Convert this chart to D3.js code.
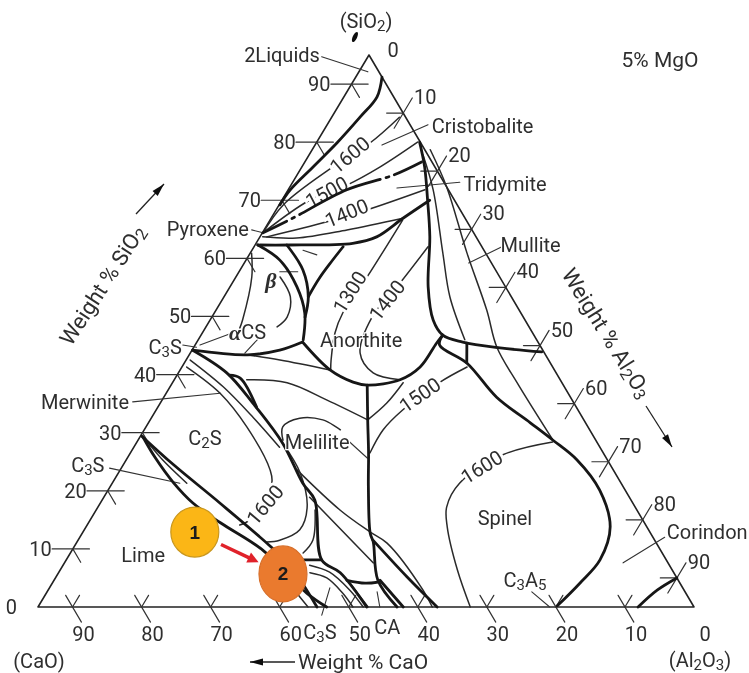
<!DOCTYPE html>
<html>
<head>
<meta charset="utf-8">
<title>CaO-SiO2-Al2O3 at 5% MgO</title>
<script src="https://cdnjs.cloudflare.com/ajax/libs/d3/7.8.5/d3.min.js"></script>
<style>
    html, body { margin: 0; padding: 0; background: #fff; }
    text { font-family: "Roboto", sans-serif; fill: #2f2f2f; }
</style>
</head>
<body>
<div id="graph"></div>
<script>
// All compositions are [Al2O3 wt%, SiO2 wt%], CaO is what is left of 95 (the other 5 is MgO)
var total = 95;

var cornerLabels = ["(CaO)", "(Al_2O_3)", "(SiO_2)"];
var sio2Ticks = [90, 80, 70, 60, 50, 40, 30, 20, 10, 0];
var al2o3Ticks = [10, 20, 30, 40, 50, 60, 70, 80, 90];
var caoTicks = [90, 80, 70, 60, 50, 40, 30, 20, 10, 0];

// heavy lines: field boundaries
var boundaries = [
    [[3.8,91.2],[4.8,87.8],[4.1,84.3],[3.0,79.9],[1.6,75.7],[0.3,71.8],[0.1,69.2]],
    [[14.9,80.0],[17.8,75.7],[21.1,70.0],[24.6,63.7],[28.7,55.1],[32.3,49.4],[35.0,46.8],[38.5,45.6],[44.4,44.6],[50.8,43.9]],
    [[21.4,70.0],[19.1,66.9],[16.9,63.7],[14.0,62.6],[5.0,62.3],[0.4,62.3]],
    [[0.4,62.3],[4.9,59.7],[9.7,55.1],[13.1,50.6],[15.2,46.0]],
    [[4.6,62.3],[9.1,58.0],[12.2,53.4],[13.5,49.9]],
    [[12.9,62.0],[12.2,56.8],[12.2,53.4]],
    [[0.1,44.2],[8.4,43.4],[12.7,44.2],[15.3,45.6]],
    [[15.3,45.6],[21.7,40.8],[26.1,38.7],[28.4,38.2],[32.7,39.1],[34.5,41.3],[34.8,45.4],[35.0,46.8]],
    [[28.4,38.2],[31.5,32.2],[34.5,26.5],[37.4,20.7],[41.7,12.7],[42.9,11.2],[46.9,4.6],[52.0,0]],
    [[42.7,11.5],[50.8,5.2],[57.8,0]],
    [[47.2,4.6],[52.9,0]],
    [[35.0,46.8],[35.4,45.1],[40.9,42.0],[48.2,36.1],[55.3,31.7],[60.1,28.7],[65.3,25.3],[71.2,20.1],[75.9,13.8],[77.3,8.1],[76.4,4.1],[75.1,0.2]],
    [[39.2,45.4],[40.9,42.0]],
    [[86.9,0],[88.2,2.9],[90.0,5.0]],
    [[0.1,44.2],[7.0,40.3],[13.4,35.1],[21.2,28.2],[27.6,21.3],[30.8,18.4],[37.0,8.1],[40.8,5.9],[47.6,0]],
    [[34.3,8.1],[37.0,8.1]],
    [[7.6,39.9],[9.4,39.4],[14.3,34.4]],
    [[42.4,4.6],[45.3,4.1],[47.1,4.3]],
    [[0.2,29.4],[7.1,24.6],[17.3,17.9],[28.3,10.5],[32.8,7.2],[40.4,0]],
    [[0.4,29.3],[3.9,25.8],[8.7,21.5],[13.4,17.9],[19.1,14.5],[27.6,9.8],[37.7,2.4],[41.8,0]]
];

// the dash-dot one between cristobalite and tridymite
var dashBoundary = [[16.9,76.6],[13.9,74.3],[8.5,71.8],[3.1,66.9],[0.1,64.4]];

// thin lines: other boundaries and compatibility joins
var thinLines = [
    [[19.1,66.9],[12.0,64.9],[5.4,63.5],[0.4,63.7]],
    [[16.5,77.8],[21.0,71.8],[27.9,60.9],[32.7,53.4],[38.6,46.0]],
    [[17.1,78.7],[22.7,72.3],[31.4,60.9],[39.2,51.1],[43.9,44.7],[49.9,38.6],[60.1,28.7]],
    [[0.2,60.9],[2.3,56.8],[4.7,49.4],[5.0,48.0]],
    [[6.4,56.8],[9.6,53.4],[10.9,49.9],[10.3,48.2]],
    [[35.7,7.2],[39.2,6.0],[43.7,2.9],[47.1,0]],
    [[36.4,5.9],[39.3,5.0],[42.9,2.4],[45.6,0]],
    [[43.1,4.1],[47.8,0]],
    [[0.6,42.5],[7.7,37.9],[14.6,32.7],[21.1,27.5]],
    [[21.2,28.2],[26.3,23.1],[30.3,17.2],[31.2,13.3],[29.2,11.5],[27.5,11.2]],
    [[33.7,9.3],[34.0,11.5],[31.7,16.7]],
    [[21.0,28.7],[19.8,31.0],[21.5,32.5],[25.0,32.2],[28.4,30.5]],
    [[10.5,39.1],[16.6,38.6],[23.9,35.6],[31.5,32.2]],
    [[8.4,43.4],[13.6,42.5],[21.7,40.8]],
    [[25.6,23.6],[35.3,16.7],[41.6,12.9],[45.0,11.0],[54.3,2.9],[57.1,0]],
    [[29.8,18.9],[44.7,7.6]],
    [[2.1,27.9],[5.3,25.3],[10.8,21.3]],
    [[29.5,8.1],[39.1,0]]
];

// isotherms
var isotherms = [
    [[9.8,84.3],[7.8,79.9],[4.4,75.6],[0.6,69.2],[0.1,64.4]],
    [[14.6,80.0],[11.3,75.7],[8.1,72.6],[4.0,70.0],[0.1,64.4]],
    [[19.8,71.8],[13.1,68.3],[8.4,66.3],[1.0,63.7]],
    [[19.2,66.6],[19.0,56.8],[18.6,50.6],[19.2,47.2],[21.0,42.5],[21.8,40.8]],
    [[25.2,62.0],[24.3,55.8],[23.2,49.9],[24.6,43.7],[28.2,40.3],[32.7,39.1]],
    [[0.7,41.3],[7.8,36.8],[14.6,31.0],[21.7,23.6],[23.1,21.3],[23.1,15.0],[22.1,14.1]],
    [[34.7,26.5],[34.6,30.5],[35.7,33.9],[38.7,38.7],[41.3,41.3]],
    [[31.5,32.2],[32.8,35.1],[33.4,38.6]],
    [[60.2,28.4],[54.1,26.2],[50.3,21.3],[50.5,17.2],[52.3,13.8],[57.5,6.4],[62.6,0]]
];
// [text, Al2O3, SiO2, angle]
var isothermLabels = [
    ["1600", 5.9, 77.8, -40],
    ["1500", 5.8, 71.4, -28],
    ["1400", 10.5, 67.8, -22],
    ["1300", 17.8, 54.2, -58],
    ["1400", 23.9, 52.8, -52],
    ["1500", 36.9, 36.5, -35],
    ["1600", 52.1, 24.1, -32],
    ["1600", 24.0, 17.6, -50]
];

// straight leaders from a name to its field
var leaders = [
    [[-6.7,94.7],[1.3,92.1]],
    [[14.6,83.0],[9.7,79.5]],
    [[24.2,73.1],[15.6,72.1]],
    [[35.9,62.0],[32.5,59.2]],
    [[-1.8,64.9],[0.1,64.4]],
    [[-4.1,35.3],[7.8,36.8]],
    [[84.7,12.0],[80.9,7.6]],
    [[70.2,2.6],[74.1,0]],
    [[-1.8,45.1],[0.4,44.7]],
    [[40.6,3.3],[41.8,-1.4]],
    [[47.8,2.6],[49.5,0]],
    [[-1.7,23.9],[9.8,21.3]],
    [[8.7,46.5],[7.9,43.7]],
    [[4.4,47.2],[0.7,45.1]],
    [[7.4,61.4],[9.8,60.6]],
    [[5.9,57.7],[8.5,57.7]],
    [[30.8,28.4],[34.8,25.6]]
];

// phase field names [text, Al2O3, SiO2]
var fieldLabels = [
    ["2Liquids", -12.6, 95.0],
    ["Cristobalite", 22.6, 82.8],
    ["Tridymite", 30.9, 72.8],
    ["Mullite", 39.9, 62.3],
    ["Pyroxene", -8.2, 65.0],
    ["C_3S", -4.2, 44.8],
    ["Merwinite", -11.0, 35.3],
    ["C_2S", 9.5, 29.1],
    ["C_3S", -5.1, 24.4],
    ["Lime", 10.7, 9.0],
    ["Anorthite", 23.6, 46.0],
    ["Melilite", 26.1, 28.4],
    ["Spinel", 59.9, 15.3],
    ["C_3A_5", 68.2, 4.6],
    ["Corindon", 90.4, 12.9],
    ["C_3S", 43.0, -4.3],
    ["CA", 52.3, -3.4]
];
var greekLabels = [
    ["\u03b2", 4.5, 56.3, ""],
    ["\u03b1", 3.8, 47.3, "CS"]
];

// the two numbered slag compositions
var slagPoints = [
    {id: "1", al2o3: 16.2, sio2: 12.9},
    {id: "2", al2o3: 32.6, sio2: 5.7}
];

var width = 749;
var height = 673;

var xScale = d3.scaleLinear().domain([0, total]).range([38, 694]);
var yScale = d3.scaleLinear().domain([0, total]).range([607, 55]);
var apexShift = (369 - 38) / (694 - 38);	// the apex is not quite over the middle of the base

function px(p) { return xScale(p[0] + apexShift * p[1]); }
function py(p) { return yScale(p[1]); }

var curve = d3.line().x(px).y(py).curve(d3.curveCatmullRom.alpha(0.5));
var straight = d3.line().x(px).y(py);

var svg = d3.select("#graph").append("svg")
    .attr("width", width)
    .attr("height", height)
    .style("display", "block");

// the scan is a bit soft
svg.append("defs").append("filter")
    .attr("id", "soft")
    .attr("x", 0).attr("y", 0).attr("width", 1).attr("height", 1)
    .append("feGaussianBlur").attr("stdDeviation", 0.45);

var root = svg.append("g").attr("filter", "url(#soft)");
root.append("rect").attr("width", width).attr("height", height).attr("fill", "#fff");

function drawLines(data, gen, w, color, dash) {
    root.append("g").selectAll("path")
        .data(data)
        .enter().append("path")
        .attr("d", gen)
        .attr("fill", "none")
        .attr("stroke", color)
        .attr("stroke-width", w)
        .attr("stroke-linecap", "round")
        .attr("stroke-linejoin", "round")
        .attr("stroke-dasharray", dash || null);
}

// puts "C_3S" into a text node with the 3 lowered
function setLabel(sel, str) {
    sel.each(function(d) {
        var node = d3.select(this);
        var s = typeof str === "function" ? str(d) : str;
        var parts = s.split("_");
        node.append("tspan").text(parts[0]);
        parts.slice(1).forEach(function(part) {
            node.append("tspan").attr("dy", 5).attr("font-size", "75%").text(part.charAt(0));
            if (part.length > 1) node.append("tspan").attr("dy", -5).text(part.slice(1));
        });
    });
}

function plainText(x, y, str, size, anchor, rotate) {
    var t = root.append("text")
        .attr("x", x).attr("y", y)
        .attr("font-size", size)
        .attr("text-anchor", anchor || "middle")
        .attr("dominant-baseline", "central");
    if (rotate) t.attr("transform", "rotate(" + rotate + " " + x + " " + y + ")");
    setLabel(t, str);
    return t;
}

// triangle
drawLines([[[0, 0], [total, 0], [0, total], [0, 0]]], straight, 1.6, "#222");

// ticks: each one is two short lines across the edge, along two of the composition directions
var tickLines = [];
sio2Ticks.filter(function(v) { return v > 0; }).forEach(function(v) {
    tickLines.push([[-3, v], [2.4, v]]);
    tickLines.push([[0, v], [2.3, v - 2.3]]);
});
al2o3Ticks.forEach(function(v) {
    var s = total - v;
    tickLines.push([[v - 2.4, s], [v, s]]);
    tickLines.push([[v, s + 2.6], [v, s - 2.6]]);
});
caoTicks.filter(function(v) { return v > 0; }).forEach(function(v) {
    var a = total - v;
    tickLines.push([[a - 2, 2], [a + 2.6, -2.6]]);
    tickLines.push([[a, 0], [a, 2]]);
});
drawLines(tickLines, straight, 1.2, "#333");

drawLines(isotherms, curve, 1.5, "#2a2a2a");
drawLines(thinLines, curve, 1.5, "#2a2a2a");
drawLines(leaders, straight, 1.1, "#333");

// isotherm temperatures, white outline hides the line underneath.
// Before the heavy lines, otherwise the 1500 outline eats into the dash-dot line
root.append("g").selectAll("text").data(isothermLabels).enter().append("text")
    .attr("transform", function(d) {
        return "translate(" + px([d[1], d[2]]) + "," + py([d[1], d[2]]) + ") rotate(" + d[3] + ")";
    })
    .attr("text-anchor", "middle").attr("dominant-baseline", "central")
    .attr("font-size", 20)
    .attr("stroke", "#fff").attr("stroke-width", 6).attr("paint-order", "stroke")
    .text(function(d) { return d[0]; });

drawLines(boundaries, curve, 2.8, "#171717");
drawLines([dashBoundary], curve, 2.8, "#171717", "30 6 3 6 88 6 3 6 60");

// tick labels
root.append("g").selectAll("text").data(sio2Ticks).enter().append("text")
    .attr("x", function(v) { return px([0, v]) - 21; })
    .attr("y", function(v) { return py([0, v]); })
    .attr("text-anchor", "end").attr("dominant-baseline", "central")
    .attr("font-size", 20)
    .text(function(v) { return v; });
root.append("g").selectAll("text").data(al2o3Ticks).enter().append("text")
    .attr("x", function(v) { return px([v, total - v]) + 22; })
    .attr("y", function(v) { return py([v, total - v]) - 16; })
    .attr("text-anchor", "middle").attr("dominant-baseline", "central")
    .attr("font-size", 20)
    .text(function(v) { return v; });
root.append("g").selectAll("text").data(caoTicks).enter().append("text")
    .attr("x", function(v) { return px([total - v, 0]) + 11; })
    .attr("y", function(v) { return py([total - v, 0]) + 27; })
    .attr("text-anchor", "middle").attr("dominant-baseline", "central")
    .attr("font-size", 20)
    .text(function(v) { return v; });
plainText(px([0, total]) + 24, py([0, total]) - 5, "0", 20);

// field names
root.append("g").selectAll("text").data(fieldLabels).enter().append("text")
    .attr("x", function(d) { return px([d[1], d[2]]); })
    .attr("y", function(d) { return py([d[1], d[2]]); })
    .attr("text-anchor", "middle").attr("dominant-baseline", "central")
    .attr("font-size", 20)
    .attr("stroke", "#fff").attr("stroke-width", 2.5).attr("paint-order", "stroke")
    .call(setLabel, function(d) { return d[0]; });

root.append("g").selectAll("text").data(greekLabels).enter().append("text")
    .attr("x", function(d) { return px([d[1], d[2]]); })
    .attr("y", function(d) { return py([d[1], d[2]]); })
    .attr("dominant-baseline", "central")
    .attr("font-size", 20)
    .attr("stroke", "#fff").attr("stroke-width", 2.5).attr("paint-order", "stroke")
    .each(function(d) {
        var t = d3.select(this);
        t.append("tspan").style("font-family", "Liberation Serif").attr("font-weight", "bold").attr("font-style", "italic").attr("font-size", 22).text(d[0]);
        if (d[3]) t.append("tspan").text(d[3]);
    });

// little blob by the apex (the 2 liquids field)
root.append("ellipse")
    .attr("cx", px([-3.6, 98.1])).attr("cy", py([-3.6, 98.1]))
    .attr("rx", 2.2).attr("ry", 5.5)
    .attr("transform", "rotate(25 " + px([-3.6, 98.1]) + " " + py([-3.6, 98.1]) + ")")
    .attr("fill", "#111");

// corners and headings
plainText(39, 661, cornerLabels[0], 20);
plainText(700, 660, cornerLabels[1], 20);
plainText(366, 21, cornerLabels[2], 20);
plainText(660, 60, "5% MgO", 21);
plainText(102, 285, "Weight % SiO_2", 22, "middle", -57);
plainText(607, 333, "Weight % Al_2O_3", 22, "middle", 58);
plainText(298, 662, "Weight % CaO", 21, "start");

// axis arrows
var arrows = [
    {x1: 136, y1: 214, x2: 164, y2: 184},
    {x1: 646, y1: 406, x2: 672, y2: 447},
    {x1: 295, y1: 662, x2: 250, y2: 662}
];
arrows.forEach(function(a) {
    var ang = Math.atan2(a.y2 - a.y1, a.x2 - a.x1);
    root.append("line")
        .attr("x1", a.x1).attr("y1", a.y1).attr("x2", a.x2).attr("y2", a.y2)
        .attr("stroke", "#222").attr("stroke-width", 1.3);
    root.append("path")
        .attr("d", d3.line()([[0, 0], [-13, -3.5], [-13, 3.5]]) + "Z")
        .attr("transform", "translate(" + a.x2 + "," + a.y2 + ") rotate(" + (ang * 180 / Math.PI) + ")")
        .attr("fill", "#111");
});

// slag points, arrow first so the circles sit on it
var p1 = [slagPoints[0].al2o3, slagPoints[0].sio2];
var p2 = [slagPoints[1].al2o3, slagPoints[1].sio2];
var dx = px(p2) - px(p1), dy = py(p2) - py(p1), len = Math.sqrt(dx * dx + dy * dy);
var ux = dx / len, uy = dy / len;
var sx = px(p1) + ux * 29, sy = py(p1) + uy * 29;
var ex = px(p2) - ux * 27, ey = py(p2) - uy * 27;
root.append("line")
    .attr("x1", sx).attr("y1", sy)
    .attr("x2", ex - ux * 8).attr("y2", ey - uy * 8)
    .attr("stroke", "#e0202a").attr("stroke-width", 3.5);
root.append("path")
    .attr("d", d3.line()([[0, 0], [-11, -5.5], [-11, 5.5]]) + "Z")
    .attr("transform", "translate(" + ex + "," + ey + ") rotate(" + (Math.atan2(uy, ux) * 180 / Math.PI) + ")")
    .attr("fill", "#e0202a");

var colors = d3.scaleOrdinal().domain(["1", "2"]).range(["#fbb615", "#ea7a2e"]);
var strokes = d3.scaleOrdinal().domain(["1", "2"]).range(["#c9971f", "#d8702c"]);

var spots = root.append("g").selectAll("g").data(slagPoints).enter().append("g")
    .attr("transform", function(d) { return "translate(" + px([d.al2o3, d.sio2]) + "," + py([d.al2o3, d.sio2]) + ")"; });
spots.append("ellipse")
    .attr("rx", 24)
    .attr("ry", function(d) { return d.id === "2" ? 28 : 25; })
    .attr("fill", function(d) { return colors(d.id); })
    .attr("stroke", function(d) { return strokes(d.id); })
    .attr("stroke-width", 1.2);
spots.append("text")
    .attr("text-anchor", "middle").attr("dominant-baseline", "central")
    .attr("font-size", 19).attr("font-weight", "bold")
    .style("font-family", "Liberation Sans, sans-serif")
    .style("fill", "#1a1a1a")
    .text(function(d) { return d.id; });
</script>
</body>
</html>
